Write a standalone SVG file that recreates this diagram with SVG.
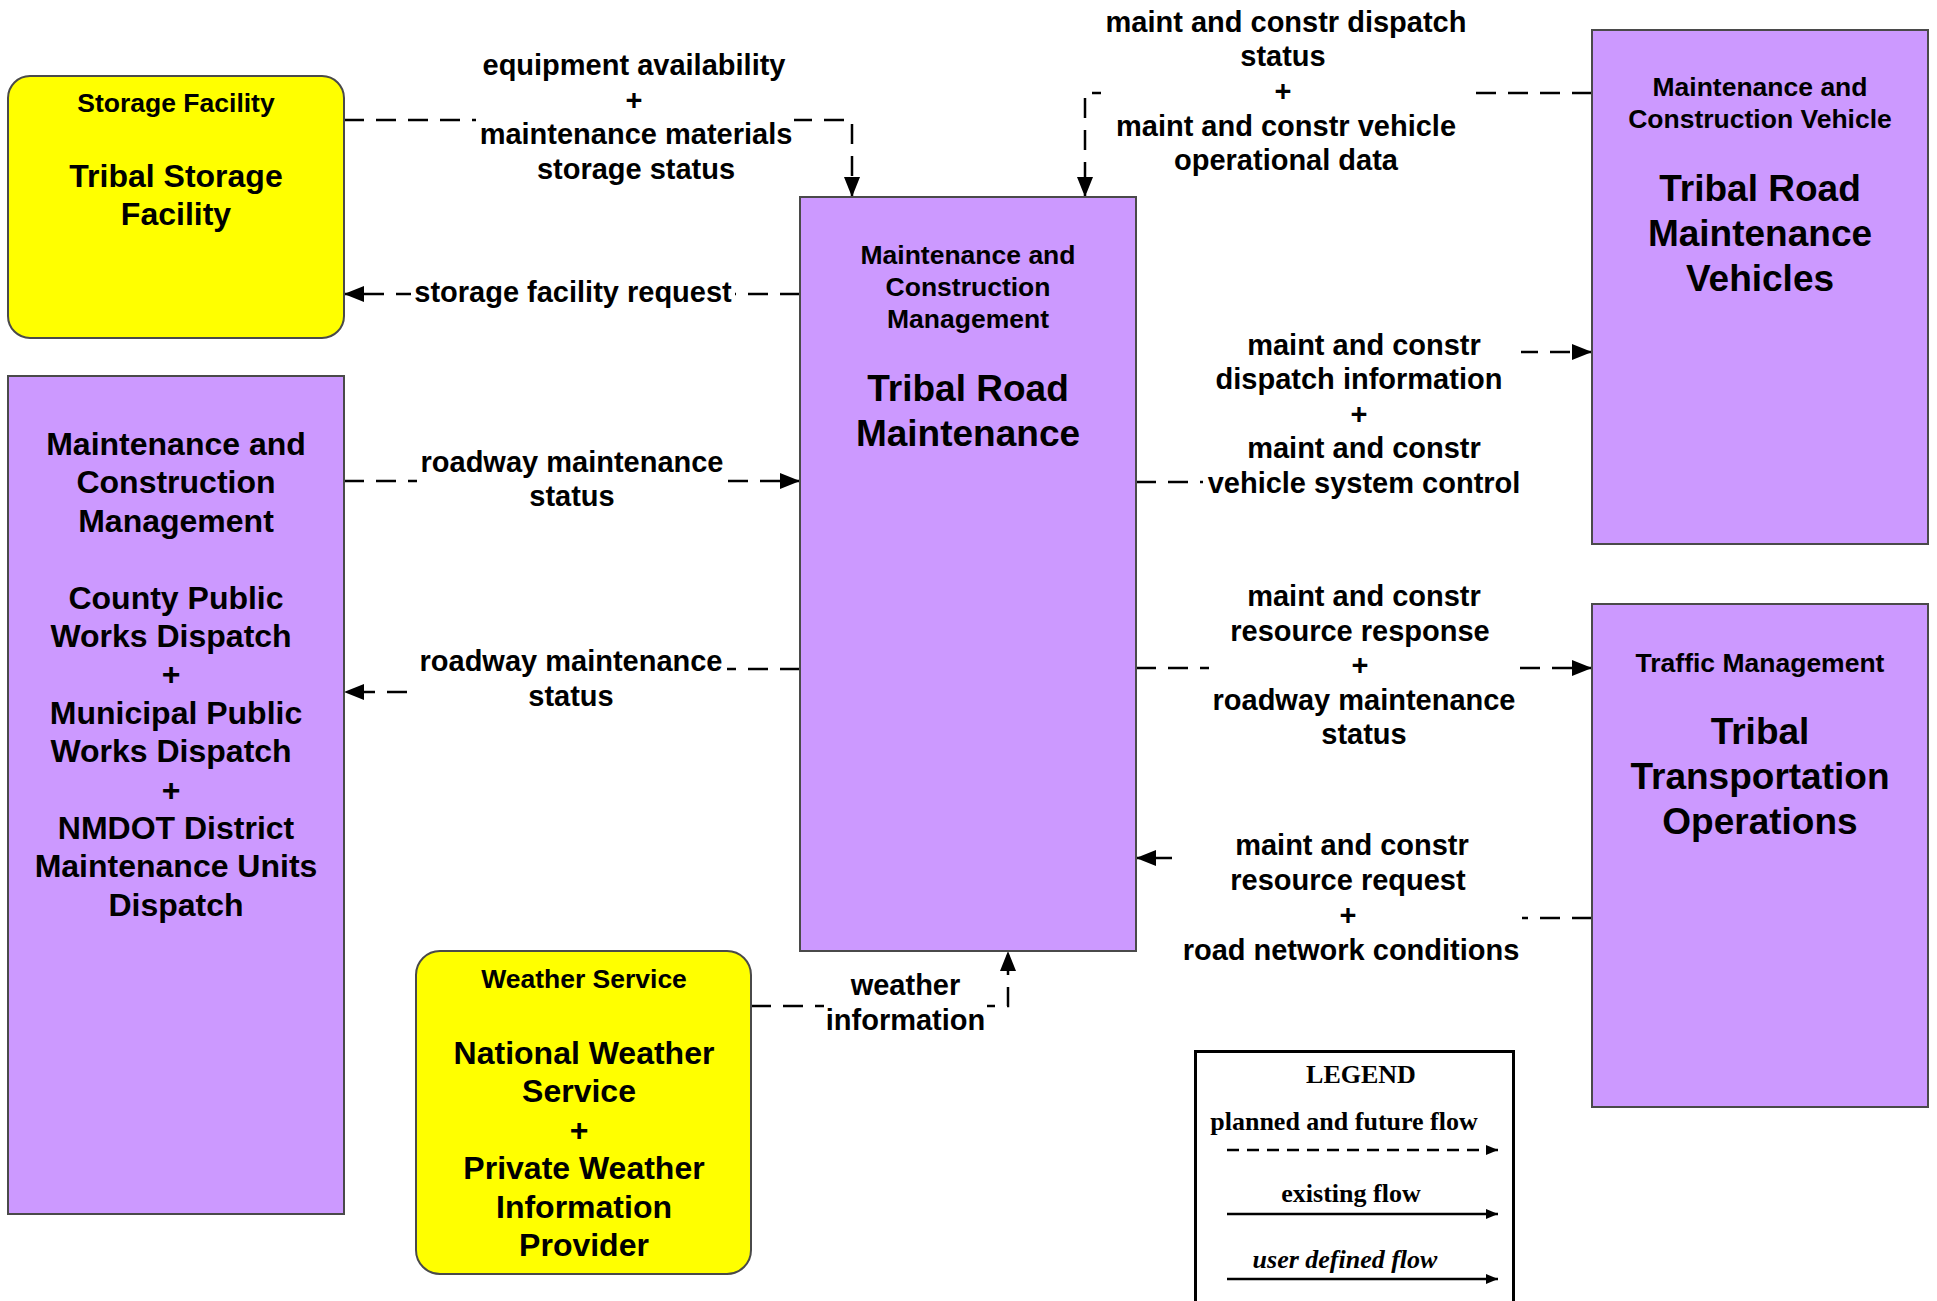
<svg xmlns="http://www.w3.org/2000/svg" width="1937" height="1301" viewBox="0 0 1937 1301">
<style>
  .box { fill: #CC99FF; stroke: #4a4a4a; stroke-width: 2; }
  .ybox { fill: #FFFF00; stroke: #4a4a4a; stroke-width: 2; }
  text { font-family: "Liberation Sans", Arial, sans-serif; font-weight: bold; fill: #000; text-anchor: middle; }
  .sm { font-size: 26.5px; }
  .lg { font-size: 37px; }
  .md { font-size: 32px; }
  .lbl { font-size: 29px; }
  .flow { fill: none; stroke: #000; stroke-width: 2.5; stroke-dasharray: 20 12; }
  .bg { fill: #fff; }
  .leg { font-family: "Liberation Serif", "Times New Roman", serif; font-size: 26px; }
</style>
<defs>
  <marker id="arr" markerUnits="userSpaceOnUse" markerWidth="20" markerHeight="16" refX="20" refY="8" orient="auto">
    <path d="M0,0 L20,8 L0,16 z" fill="#000"/>
  </marker>
  <marker id="sarr" markerUnits="userSpaceOnUse" markerWidth="12" markerHeight="10" refX="12" refY="5" orient="auto">
    <path d="M0,0 L12,5 L0,10 z" fill="#000"/>
  </marker>
</defs>
<rect width="1937" height="1301" fill="#fff"/>

<g id="connectors">
  <path class="flow" d="M344,120 H852 V197" marker-end="url(#arr)"/>
  <path class="flow" d="M800,294 H344" marker-end="url(#arr)"/>
  <path class="flow" d="M1592,93 H1085 V197" marker-end="url(#arr)"/>
  <path class="flow" d="M1136,482 H1400 V352 H1592" marker-end="url(#arr)"/>
  <path class="flow" d="M1136,668 H1592" marker-end="url(#arr)"/>
  <path class="flow" d="M1592,918 H1400 V858 H1136" marker-end="url(#arr)"/>
  <path class="flow" d="M800,669 H570 V692 H344" marker-end="url(#arr)"/>
  <path class="flow" d="M344,481 H800" marker-end="url(#arr)"/>
  <path class="flow" d="M751,1006 H1008 V951" marker-end="url(#arr)"/>

  <rect class="bg" x="476" y="50" width="318" height="140"/>
  <text class="lbl" x="634" y="75">equipment availability</text>
  <text class="lbl" x="634" y="109.5">+</text>
  <text class="lbl" x="636" y="144">maintenance materials</text>
  <text class="lbl" x="636" y="178.5">storage status</text>

  <rect class="bg" x="411" y="272" width="324" height="38"/>
  <text class="lbl" x="573" y="302">storage facility request</text>

  <rect class="bg" x="1101" y="5" width="370" height="175"/>
  <text class="lbl" x="1286" y="31.5">maint and constr dispatch</text>
  <text class="lbl" x="1283" y="66.2">status</text>
  <text class="lbl" x="1283" y="100.9">+</text>
  <text class="lbl" x="1286" y="135.6">maint and constr vehicle</text>
  <text class="lbl" x="1286" y="170.3">operational data</text>

  <rect class="bg" x="1203" y="328" width="318" height="174"/>
  <text class="lbl" x="1364" y="354.5">maint and constr</text>
  <text class="lbl" x="1359" y="389">dispatch information</text>
  <text class="lbl" x="1359" y="423.7">+</text>
  <text class="lbl" x="1364" y="458.3">maint and constr</text>
  <text class="lbl" x="1364" y="493">vehicle system control</text>

  <rect class="bg" x="1209" y="580" width="310" height="172"/>
  <text class="lbl" x="1364" y="606">maint and constr</text>
  <text class="lbl" x="1360" y="640.6">resource response</text>
  <text class="lbl" x="1360" y="675.2">+</text>
  <text class="lbl" x="1364" y="709.8">roadway maintenance</text>
  <text class="lbl" x="1364" y="744.4">status</text>

  <rect class="bg" x="1177" y="828" width="345" height="142"/>
  <text class="lbl" x="1352" y="855">maint and constr</text>
  <text class="lbl" x="1348" y="890">resource request</text>
  <text class="lbl" x="1348" y="925">+</text>
  <text class="lbl" x="1351" y="960">road network conditions</text>

  <rect class="bg" x="415" y="648" width="312" height="66"/>
  <text class="lbl" x="571" y="671">roadway maintenance</text>
  <text class="lbl" x="571" y="705.5">status</text>

  <rect class="bg" x="417" y="450" width="310" height="64"/>
  <text class="lbl" x="572" y="472">roadway maintenance</text>
  <text class="lbl" x="572" y="506">status</text>

  <rect class="bg" x="824" y="973" width="163" height="66"/>
  <text class="lbl" x="905.5" y="995">weather</text>
  <text class="lbl" x="905.5" y="1030">information</text>
</g>

<g id="storage-facility">
  <rect class="ybox" x="8" y="76" width="336" height="262" rx="22" ry="22"/>
  <text class="sm" x="176" y="112">Storage Facility</text>
  <text class="md" x="176" y="187">Tribal Storage</text>
  <text class="md" x="176" y="224.5">Facility</text>
</g>

<g id="mcm-dispatch">
  <rect class="box" x="8" y="376" width="336" height="838"/>
  <text class="md" x="176" y="455">Maintenance and</text>
  <text class="md" x="176" y="493.4">Construction</text>
  <text class="md" x="176" y="531.8">Management</text>
  <text class="md" x="176" y="608.6">County Public</text>
  <text class="md" x="171" y="647">Works Dispatch</text>
  <text class="md" x="171" y="685.4">+</text>
  <text class="md" x="176" y="723.8">Municipal Public</text>
  <text class="md" x="171" y="762.2">Works Dispatch</text>
  <text class="md" x="171" y="800.6">+</text>
  <text class="md" x="176" y="839">NMDOT District</text>
  <text class="md" x="176" y="877.4">Maintenance Units</text>
  <text class="md" x="176" y="915.8">Dispatch</text>
</g>

<g id="tribal-road-maintenance">
  <rect class="box" x="800" y="197" width="336" height="754"/>
  <text class="sm" x="968" y="264">Maintenance and</text>
  <text class="sm" x="968" y="296">Construction</text>
  <text class="sm" x="968" y="328">Management</text>
  <text class="lg" x="968" y="401">Tribal Road</text>
  <text class="lg" x="968" y="446">Maintenance</text>
</g>

<g id="tribal-road-maintenance-vehicles">
  <rect class="box" x="1592" y="30" width="336" height="514"/>
  <text class="sm" x="1760" y="96">Maintenance and</text>
  <text class="sm" x="1760" y="128">Construction Vehicle</text>
  <text class="lg" x="1760" y="201">Tribal Road</text>
  <text class="lg" x="1760" y="246">Maintenance</text>
  <text class="lg" x="1760" y="291">Vehicles</text>
</g>

<g id="tribal-transportation-operations">
  <rect class="box" x="1592" y="604" width="336" height="503"/>
  <text class="sm" x="1760" y="672">Traffic Management</text>
  <text class="lg" x="1760" y="744">Tribal</text>
  <text class="lg" x="1760" y="789">Transportation</text>
  <text class="lg" x="1760" y="834">Operations</text>
</g>

<g id="weather-service">
  <rect class="ybox" x="416" y="951" width="335" height="323" rx="24" ry="24"/>
  <text class="sm" x="584" y="988">Weather Service</text>
  <text class="md" x="584" y="1064">National Weather</text>
  <text class="md" x="579" y="1102.4">Service</text>
  <text class="md" x="579" y="1140.8">+</text>
  <text class="md" x="584" y="1179.2">Private Weather</text>
  <text class="md" x="584" y="1217.6">Information</text>
  <text class="md" x="584" y="1256">Provider</text>
</g>

<g id="legend">
  <rect x="1195.5" y="1051.5" width="318" height="270" fill="#fff" stroke="#000" stroke-width="3"/>
  <text class="leg" x="1361" y="1083">LEGEND</text>
  <text class="leg" x="1344" y="1130">planned and future flow</text>
  <line x1="1227" y1="1150" x2="1498" y2="1150" stroke="#000" stroke-width="2.5" stroke-dasharray="12 8" marker-end="url(#sarr)"/>
  <text class="leg" x="1351" y="1202">existing flow</text>
  <line x1="1227" y1="1214" x2="1498" y2="1214" stroke="#000" stroke-width="2.5" marker-end="url(#sarr)"/>
  <text class="leg" x="1345" y="1268" font-style="italic">user defined flow</text>
  <line x1="1227" y1="1279" x2="1498" y2="1279" stroke="#000" stroke-width="2.5" marker-end="url(#sarr)"/>
</g>
</svg>
